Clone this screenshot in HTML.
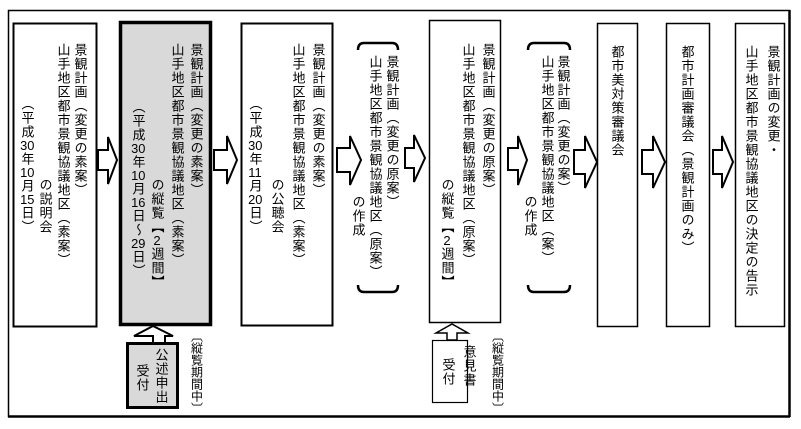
<!DOCTYPE html>
<html><head><meta charset="utf-8"><style>
body{margin:0;background:#fff;}
#c{position:relative;width:801px;height:429px;overflow:hidden;background:#fff;font-family:"Liberation Sans","Noto Sans CJK JP",sans-serif;}
.t{position:absolute;writing-mode:vertical-rl;font-size:13px;line-height:15px;letter-spacing:1px;color:#000;white-space:nowrap;transform:translateX(-50%);}
.n{text-combine-upright:all;}
svg{position:absolute;left:0;top:0;}
</style></head><body><div id="c">
<svg width="801" height="429" viewBox="0 0 801 429">
<rect x="8.5" y="10.5" width="781" height="406" fill="none" stroke="#000" stroke-width="1.5"/>
<line x1="8" y1="416.5" x2="790" y2="416.5" stroke="#000" stroke-width="2.5"/>
<line x1="789.5" y1="10" x2="789.5" y2="417" stroke="#000" stroke-width="2.5"/>
<rect x="13.5" y="23.5" width="83" height="303" fill="#fff" stroke="#000" stroke-width="2"/>
<rect x="120.5" y="22.5" width="90" height="302" fill="#d9d9d9" stroke="#000" stroke-width="3.5"/>
<rect x="241.5" y="23.5" width="91" height="302" fill="#fff" stroke="#000" stroke-width="2"/>
<rect x="429.5" y="20.5" width="71" height="302" fill="#fff" stroke="#000" stroke-width="1.5"/>
<rect x="597.5" y="23.5" width="40" height="303" fill="#fff" stroke="#000" stroke-width="1.5"/>
<rect x="666.5" y="23.5" width="43" height="303" fill="#fff" stroke="#000" stroke-width="1.5"/>
<rect x="735.5" y="23.5" width="49" height="303" fill="#fff" stroke="#000" stroke-width="1.5"/>
<rect x="127.5" y="343.5" width="50" height="64" fill="#d9d9d9" stroke="#000" stroke-width="3"/>
<rect x="432.5" y="340.5" width="35" height="62" fill="#fff" stroke="#000" stroke-width="1.2"/>
<polygon points="153,343 153,336 134,336 153,326 173,336 165,336 165,343" fill="#fff" stroke="#000" stroke-width="2"/>
<polygon points="447,340 447,333 436,333 452,324 468,333 457,333 457,340" fill="#fff" stroke="#000" stroke-width="1.5"/>
<g fill="#fff" stroke="#000" stroke-width="2">
<polygon points="98,150 108,150 108,137 117,160 108,184 108,170 98,170"/>
<polygon points="214,150 227,150 227,136 237,160 227,184 227,170 214,170"/>
<polygon points="337,148 350,148 350,136 361,160 350,185 350,172 337,172"/>
<polygon points="405,148 414,148 414,135 425,158 414,182 414,168 405,168"/>
<polygon points="508,148 518,148 518,136 527,160 518,185 518,170 508,170"/>
<polygon points="574,150 585,150 585,136 597,162 585,188 585,174 574,174"/>
<polygon points="642,150 653,150 653,136 665,162 653,188 653,174 642,174"/>
<polygon points="713,150 722,150 722,136 733,162 722,188 722,174 713,174"/>
</g>
<g fill="none" stroke="#000" stroke-width="2.5">
<path d="M358,50 Q358,43 364,43 L392,43 Q398,43 398,50"/>
<path d="M358,285 Q358,292 364,292 L392,292 Q398,292 398,285"/>
<path d="M528,50 Q528,43 534,43 L564,43 Q570,43 570,50"/>
<path d="M528,285 Q528,292 534,292 L564,292 Q570,292 570,285"/>
</g>
</svg>
<div class="t" style="left:80px;top:43px">景観計画（変更の素案）</div>
<div class="t" style="left:63px;top:43px">山手地区都市景観協議地区（素案）</div>
<div class="t" style="left:45px;top:178px">の説明会</div>
<div class="t" style="left:27px;top:97px">（平成<span class="n">30</span>年<span class="n">10</span>月<span class="n">15</span>日）</div>
<div class="t" style="left:196px;top:43px">景観計画（変更の素案）</div>
<div class="t" style="left:177px;top:43px">山手地区都市景観協議地区（素案）</div>
<div class="t" style="left:157px;top:178px">の縦覧【<span class="n">2</span>週間】</div>
<div class="t" style="left:138px;top:100px">（平成<span class="n">30</span>年<span class="n">10</span>月<span class="n">16</span>日～<span class="n">29</span>日）</div>
<div class="t" style="left:161px;top:348px">公述申出</div>
<div class="t" style="left:142px;top:364px">受付</div>
<div class="t" style="left:196px;top:330px;font-size:12px;letter-spacing:0">〔縦覧期間中〕</div>
<div class="t" style="left:318px;top:43px">景観計画（変更の素案）</div>
<div class="t" style="left:298px;top:43px">山手地区都市景観協議地区（素案）</div>
<div class="t" style="left:277px;top:178px">の公聴会</div>
<div class="t" style="left:255px;top:97px">（平成<span class="n">30</span>年<span class="n">11</span>月<span class="n">20</span>日）</div>
<div class="t" style="left:392px;top:55px">景観計画（変更の原案）</div>
<div class="t" style="left:375px;top:55px">山手地区都市景観協議地区（原案）</div>
<div class="t" style="left:358px;top:195px">の作成</div>
<div class="t" style="left:488px;top:43px">景観計画（変更の原案）</div>
<div class="t" style="left:468px;top:43px">山手地区都市景観協議地区（原案）</div>
<div class="t" style="left:447px;top:178px">の縦覧【<span class="n">2</span>週間】</div>
<div class="t" style="left:469px;top:345px">意見書</div>
<div class="t" style="left:448px;top:358px">受付</div>
<div class="t" style="left:497px;top:330px;font-size:12px;letter-spacing:0">〔縦覧期間中〕</div>
<div class="t" style="left:563px;top:55px">景観計画（変更の案）</div>
<div class="t" style="left:547px;top:55px">山手地区都市景観協議地区（案）</div>
<div class="t" style="left:530px;top:195px">の作成</div>
<div class="t" style="left:617px;top:45px">都市美対策審議会</div>
<div class="t" style="left:687px;top:45px">都市計画審議会（景観計画のみ）</div>
<div class="t" style="left:773px;top:45px">景観計画の変更・</div>
<div class="t" style="left:751px;top:45px">山手地区都市景観協議地区の決定の告示</div>
</div></body></html>
